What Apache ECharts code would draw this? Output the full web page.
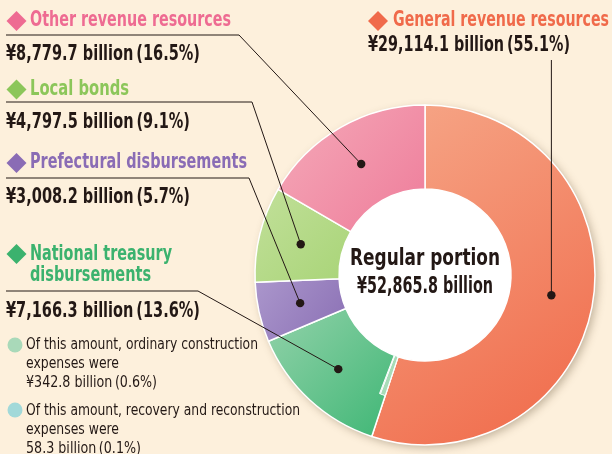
<!DOCTYPE html>
<html>
<head>
<meta charset="utf-8">
<script src="https://cdn.jsdelivr.net/npm/echarts@6/dist/echarts.min.js"></script>
<style>
html, body { margin: 0; padding: 0; background: #fdf0dc; }
#chart { width: 612px; height: 454px; }
</style>
</head>
<body>
<div id="chart"></div>
<script>
// ¥ billion, clockwise from 12 o'clock
const names = ['General revenue resources', 'National treasury disbursements', 'Prefectural disbursements', 'Local bonds', 'Other revenue resources'];
const values = [29114.1, 7166.3, 3008.2, 4797.5, 8779.7];
const shares = [55.1, 13.6, 5.7, 9.1, 16.5];
// parts of national treasury disbursements
const subNames = ['ordinary construction', 'recovery and reconstruction'];
const subValues = [342.8, 58.3];
const subShares = [0.6, 0.1];
const total = 52865.8;

const CX = 425, CY = 275, R0 = 86, R1 = 170;
const FONT = "'Liberation Sans Narrow','DejaVu Sans Condensed','Liberation Sans',sans-serif";
const DARK = '#231815';

const grads = [
    ['#f6a788', '#f06848'],
    ['#93d2aa', '#3db674'],
    ['#ab97cc', '#8a6fb4'],
    ['#c2e09a', '#a8d477'],
    ['#f5aab9', '#ee7c9a']
];
const titleColors = ['#f06a4a', '#3bb26e', '#8a6cb5', '#8cc65a', '#ee6b92'];

function grad(c) {
    return {type: 'linear', x: 0, y: 0, x2: 1, y2: 1,
        colorStops: [{offset: 0, color: c[0]}, {offset: 1, color: c[1]}]};
}

const fmt = v => '¥' + v.toLocaleString('en-US', {minimumFractionDigits: 1});
const pct = p => '\u2009(' + p + '%)';

// measure text so it fits the condensed widths of the original
const ctx = document.createElement('canvas').getContext('2d');
function txt(str, x, y, w, size, weight, color) {
    const font = weight + ' ' + size + 'px ' + FONT;
    ctx.font = font;
    const sx = w / ctx.measureText(str).width;
    return {type: 'text', x: x, y: y, scaleX: sx, z: 10,
        style: {text: str, font: font, fill: color, textVerticalAlign: 'middle', textAlign: 'left'}};
}
function diamond(cx, cy, h, color) {
    return {type: 'polygon', z: 10,
        shape: {points: [[cx, cy - h], [cx + h, cy], [cx, cy + h], [cx - h, cy]]},
        style: {fill: color}};
}

// dot for each slice at its middle angle
let acc = 0;
const dots = values.map(v => {
    const a = (acc + v / 2) / total * 2 * Math.PI;
    acc += v;
    return [CX + 128 * Math.sin(a), CY - 128 * Math.cos(a)];
});

const line = pts => ({type: 'polyline', z: 9, shape: {points: pts},
    style: {stroke: DARK, lineWidth: 1, fill: null}});
const dot = p => ({type: 'circle', z: 11, shape: {cx: p[0], cy: p[1], r: 4.2}, style: {fill: DARK}});

const graphics = [
    // shadow + white hole behind the pie
    {type: 'circle', z: 0, shape: {cx: CX, cy: CY, r: R1},
        style: {fill: '#fff', shadowBlur: 8, shadowOffsetX: 3, shadowOffsetY: 3, shadowColor: 'rgba(90,70,40,0.35)'}},

    line([[6, 35], [239, 35], dots[4]]),
    line([[6, 102], [252, 102], dots[3]]),
    line([[6, 178], [249, 178], dots[2]]),
    line([[6, 291], [198, 291], dots[1]]),
    line([[dots[0][0], 60], dots[0]]),
    ...dots.map(dot),

    diamond(16.5, 21, 10, titleColors[4]),
    txt(names[4], 30, 20.5, 201, 21, 'bold', titleColors[4]),
    txt(fmt(values[4]) + ' billion' + pct(shares[4]), 6, 55, 194, 21, 'bold', DARK),

    diamond(16.5, 89.5, 10, titleColors[3]),
    txt(names[3], 30, 89.5, 99, 21, 'bold', titleColors[3]),
    txt(fmt(values[3]) + ' billion' + pct(shares[3]), 6, 123, 184, 21, 'bold', DARK),

    diamond(16.5, 163, 10, titleColors[2]),
    txt(names[2], 30, 163, 217, 21, 'bold', titleColors[2]),
    txt(fmt(values[2]) + ' billion' + pct(shares[2]), 6, 197.5, 184, 21, 'bold', DARK),

    diamond(16.5, 254, 10, titleColors[1]),
    txt('National treasury', 30, 255, 142, 21, 'bold', titleColors[1]),
    txt('disbursements', 30, 275.5, 121, 21, 'bold', titleColors[1]),
    txt(fmt(values[1]) + ' billion' + pct(shares[1]), 6, 311.5, 194, 21, 'bold', DARK),

    {type: 'circle', z: 10, shape: {cx: 15, cy: 345, r: 7.5}, style: {fill: '#a9d9b9'}},
    txt('Of this amount, ' + subNames[0], 26, 344.5, 232, 16, 'normal', DARK),
    txt('expenses were', 26, 363.5, 93, 16, 'normal', DARK),
    txt(fmt(subValues[0]) + ' billion' + pct(subShares[0]), 26, 382.5, 131, 16, 'normal', DARK),

    {type: 'circle', z: 10, shape: {cx: 15, cy: 410, r: 7.5}, style: {fill: '#a2d9d9'}},
    txt('Of this amount, ' + subNames[1], 26, 411, 274, 16, 'normal', DARK),
    txt('expenses were', 26, 430, 93, 16, 'normal', DARK),
    txt(subValues[1] + ' billion' + pct(subShares[1]), 26, 449, 115, 16, 'normal', DARK),

    diamond(378, 21, 10, titleColors[0]),
    txt(names[0], 393, 20.5, 216, 21, 'bold', titleColors[0]),
    txt(fmt(values[0]) + ' billion' + pct(shares[0]), 368, 45.5, 202, 21, 'bold', DARK),

    txt('Regular portion', 350, 259.5, 150, 23, 'bold', DARK),
    txt(fmt(total) + ' billion', 357, 287, 136, 23, 'bold', DARK)
];

const chart = echarts.init(document.getElementById('chart'));
chart.setOption({
    backgroundColor: '#fdf0dc',
    animation: false,
    graphic: graphics,
    series: [{
        type: 'pie',
        z: 2,
        center: [CX, CY],
        radius: [R0, R1],
        startAngle: 90,
        clockwise: true,
        silent: true,
        label: {show: false},
        labelLine: {show: false},
        itemStyle: {borderColor: '#fff', borderWidth: 1.5},
        data: values.map((v, i) => ({name: names[i], value: v, itemStyle: {color: grad(grads[i])}}))
    }, {
        // thin sliver for the sub-amounts of national treasury disbursements
        type: 'pie',
        z: 3,
        center: [CX, CY],
        radius: [R0, 127],
        startAngle: 90,
        clockwise: true,
        silent: true,
        label: {show: false},
        labelLine: {show: false},
        data: [
            {value: values[0], itemStyle: {color: 'transparent'}},
            {value: subValues[0], itemStyle: {color: '#a8dcb8', borderColor: '#fff', borderWidth: 1}},
            {value: subValues[1], itemStyle: {color: '#a2d9d9', borderColor: '#fff', borderWidth: 1}},
            {value: total - values[0] - subValues[0] - subValues[1], itemStyle: {color: 'transparent'}}
        ]
    }]
});
</script>
</body>
</html>
